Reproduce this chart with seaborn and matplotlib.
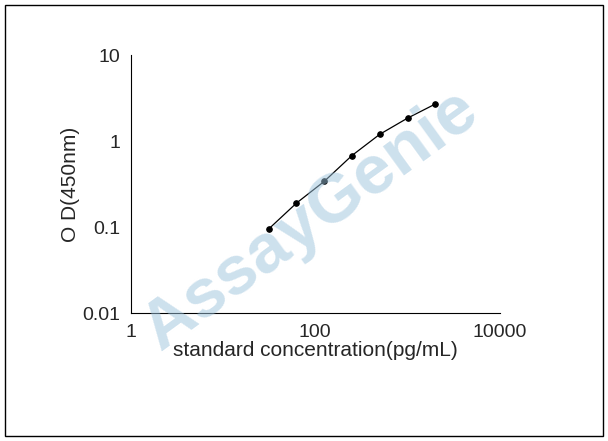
import matplotlib
matplotlib.use("Agg")
import matplotlib.pyplot as plt
import pandas as pd
import seaborn as sns
from matplotlib.patches import Rectangle

concentration = [31.25, 62.5, 125, 250, 500, 1000, 2000]
od_450 = [0.095, 0.19, 0.34, 0.68, 1.2, 1.85, 2.7]
x_ticks = [1, 10, 100, 1000, 10000]
x_labels = ["1", "", "100", "", "10000"]
y_ticks = [0.01, 0.1, 1, 10]
y_labels = ["0.01", "0.1", "1", "10"]

df = pd.DataFrame({"conc": concentration, "od": od_450})

sns.set_style("white")
plt.rcParams["font.family"] = ["Liberation Sans", "DejaVu Sans"]

fig = plt.figure(figsize=(6.08, 4.41), dpi=100)
fig.patches.append(Rectangle((0.008, 0.011), 0.984, 0.978, transform=fig.transFigure,
                             fill=False, edgecolor="black", linewidth=1))

# watermark behind the axes
fig.text(0.51, 0.50, "AssayGenie", fontsize=50, fontweight="bold", color="#9cc3dc",
         alpha=0.5, rotation=36, ha="center", va="center", zorder=0)

ax = fig.add_axes([0.215, 0.29, 0.607, 0.585])
ax.patch.set_alpha(0)

sns.lineplot(data=df, x="conc", y="od", ax=ax, color="black", linewidth=0.9,
             marker="o", markersize=4, markeredgecolor="black", markerfacecolor="black")

ax.set_xscale("log")
ax.set_yscale("log")
ax.set_xlim(1, 10000)
ax.set_ylim(0.01, 10)
ax.set_xticks(x_ticks)
ax.set_xticklabels(x_labels)
ax.set_yticks(y_ticks)
ax.set_yticklabels(y_labels)
ax.minorticks_off()
ax.tick_params(axis="both", direction="out", length=4, width=0.8, labelsize=14, color="black")
sns.despine(ax=ax)
for s in ["left", "bottom"]:
    ax.spines[s].set_color("black")
    ax.spines[s].set_linewidth(0.8)

ax.set_xlabel("standard concentration(pg/mL)", fontsize=15, labelpad=0)
ax.set_ylabel("O D(450nm)", fontsize=15, labelpad=2)

fig.savefig("out.png", dpi=100)
